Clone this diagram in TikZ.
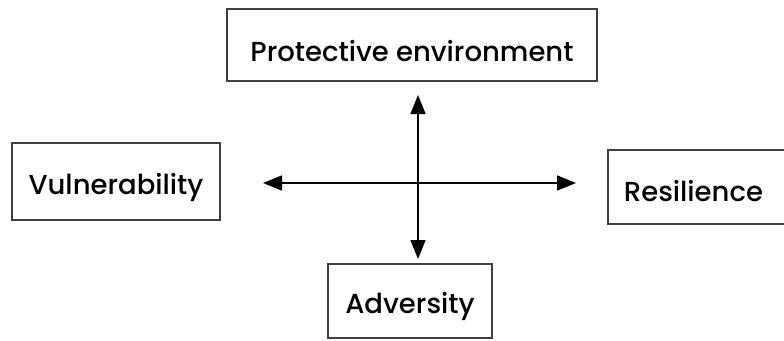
\documentclass[tikz,border=0pt]{standalone}
\usepackage{fontspec}
\setmainfont{Poppins}[UprightFont=* Medium]
\usetikzlibrary{arrows.meta}
\begin{document}
\begin{tikzpicture}[x=1pt,y=-1pt,
  box/.style={draw=black!75,line width=1.8pt,rectangle,inner sep=0pt,text depth=0pt,font=\fontsize{27.5}{32}\selectfont},
  conn/.style={line width=1.5pt,{Triangle[length=19pt,width=15pt]}-{Triangle[length=19pt,width=15pt]}}]
\useasboundingbox (0,0) rectangle (784,340);
\node[box,text height=33pt,minimum width=370pt,minimum height=72pt] (pe) at (412,45) {Protective environment};
\node[box,text height=25pt,minimum width=208pt,minimum height=77pt] (vu) at (116,181.5) {Vulnerability};
\node[box,text height=24pt,minimum width=164pt,minimum height=74pt] (ad) at (410,301) {Adversity};
\node[box,text height=29pt,anchor=north west,inner xsep=16pt,text width=151pt,align=left,minimum height=74pt] (re) at (607,149) {Resilience};
\coordinate (ut) at (418,95);
\coordinate (dt) at (418,259);
\coordinate (lt) at (263,183);
\coordinate (rt) at (576,183);
\draw[conn] (ut) -- (dt);
\draw[conn] (lt) -- (rt);
\end{tikzpicture}
\end{document}
